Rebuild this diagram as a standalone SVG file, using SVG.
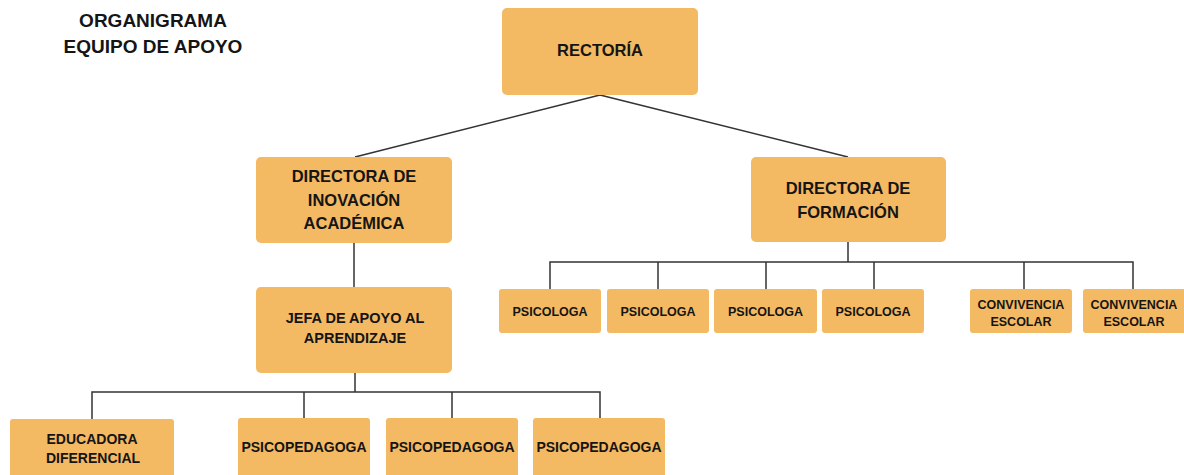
<svg xmlns="http://www.w3.org/2000/svg" width="1184" height="475" viewBox="0 0 1184 475">
<style>
.box{fill:#F4B963;}
.t{font-family:"Liberation Sans",Arial,sans-serif;font-weight:bold;fill:#151515;text-anchor:middle;}
.lg{font-size:16.5px;}
.md{font-size:14.5px;}
.sm{font-size:12.5px;}
.bt{font-size:14px;}
.ttl{font-size:19px;}
.c{stroke:#333;stroke-width:1.5;fill:none;}
</style>
<rect width="1184" height="475" fill="#ffffff"/>
<g id="title">
<text class="t ttl" x="153" y="27">ORGANIGRAMA</text>
<text class="t ttl" x="153" y="53">EQUIPO DE APOYO</text>
</g>
<g id="connectors">
<path class="c" d="M600 95 L355 157 M600 95 L848 157"/>
<path class="c" d="M354 243 V287"/>
<path class="c" d="M848 242 V262 M550 289 V262 H1133 V289 M658 262 V289 M766 262 V289 M874 262 V289 M1024 262 V289"/>
<path class="c" d="M355 373 V392 M92 419 V392 H600 V418 M304 392 V418 M452 392 V418"/>
</g>
<g id="rectoria">
<rect class="box" x="502" y="8" width="196" height="87" rx="5"/>
<text class="t lg" x="600" y="56">RECTORÍA</text>
</g>
<g id="dir-inovacion">
<rect class="box" x="256" y="157" width="196" height="86" rx="5"/>
<text class="t lg" x="354" y="182">DIRECTORA DE</text>
<text class="t lg" x="354" y="206">INOVACIÓN</text>
<text class="t lg" x="354" y="229">ACADÉMICA</text>
</g>
<g id="dir-formacion">
<rect class="box" x="751" y="157" width="195" height="85" rx="5"/>
<text class="t lg" x="848" y="194">DIRECTORA DE</text>
<text class="t lg" x="848" y="218">FORMACIÓN</text>
</g>
<g id="jefa-apoyo">
<rect class="box" x="256" y="287" width="196" height="86" rx="5"/>
<text class="t md" x="355" y="322.5">JEFA DE APOYO AL</text>
<text class="t md" x="355" y="342.5">APRENDIZAJE</text>
</g>
<g id="psicologa-1">
<rect class="box" x="499" y="289" width="102" height="44" rx="3"/>
<text class="t sm" x="550" y="315.5">PSICOLOGA</text>
</g>
<g id="psicologa-2">
<rect class="box" x="607" y="289" width="102" height="44" rx="3"/>
<text class="t sm" x="658" y="315.5">PSICOLOGA</text>
</g>
<g id="psicologa-3">
<rect class="box" x="714" y="289" width="103" height="44" rx="3"/>
<text class="t sm" x="765.5" y="315.5">PSICOLOGA</text>
</g>
<g id="psicologa-4">
<rect class="box" x="822" y="289" width="102" height="44" rx="3"/>
<text class="t sm" x="873" y="315.5">PSICOLOGA</text>
</g>
<g id="convivencia-1">
<rect class="box" x="970" y="289" width="102" height="44" rx="3"/>
<text class="t sm" x="1021" y="309">CONVIVENCIA</text>
<text class="t sm" x="1021" y="326">ESCOLAR</text>
</g>
<g id="convivencia-2">
<rect class="box" x="1083" y="289" width="104" height="44" rx="3"/>
<text class="t sm" x="1134" y="309">CONVIVENCIA</text>
<text class="t sm" x="1134" y="326">ESCOLAR</text>
</g>
<g id="educadora">
<rect class="box" x="10" y="419" width="164" height="70" rx="3"/>
<text class="t bt" x="92" y="444">EDUCADORA</text>
<text class="t bt" x="93" y="463">DIFERENCIAL</text>
</g>
<g id="psicopedagoga-1">
<rect class="box" x="238" y="418" width="132" height="70" rx="3"/>
<text class="t bt" x="304" y="452">PSICOPEDAGOGA</text>
</g>
<g id="psicopedagoga-2">
<rect class="box" x="386" y="418" width="132" height="70" rx="3"/>
<text class="t bt" x="452" y="452">PSICOPEDAGOGA</text>
</g>
<g id="psicopedagoga-3">
<rect class="box" x="533" y="418" width="132" height="70" rx="3"/>
<text class="t bt" x="599" y="452">PSICOPEDAGOGA</text>
</g>
</svg>
